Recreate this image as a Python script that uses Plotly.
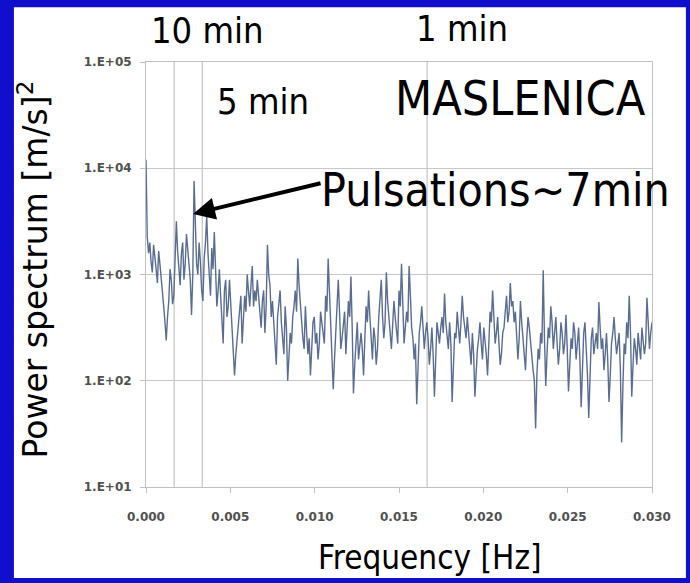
import plotly.graph_objects as go

# Frequency grid (Hz): evenly spaced bins from 0 to 0.030
f_start = 0.0
f_step = 0.000075
# log10 of power spectrum [m/s]^2: even bins ...
log_power_even = [
    4.08, 3.20, 3.12, 3.28, 3.05, 3.22, 2.98, 2.70, 2.38, 2.75,
    2.95, 2.80, 3.50, 3.05, 3.20, 2.95, 3.38, 3.12, 2.62, 3.88,
    3.10, 3.30, 2.85, 3.15, 3.55, 2.95, 3.25, 3.40, 2.70, 3.05,
    2.55, 2.85, 2.60, 2.95, 2.50, 2.05, 2.40, 2.65, 2.35, 2.80,
    3.00, 2.70, 3.08, 2.85, 2.95, 2.60, 2.75, 2.45, 3.28, 2.90,
    2.75, 2.30, 2.60, 2.85, 2.40, 2.70, 2.00, 2.45, 2.60, 2.85,
    3.15, 2.70, 2.40, 2.70, 2.25, 2.05, 2.55, 2.35, 2.20, 2.65,
    2.45, 2.80, 3.15, 2.60, 1.92, 2.45, 2.95, 2.30, 2.55, 2.25,
    2.75, 2.98, 1.88, 2.40, 2.20, 2.45, 2.05, 2.70, 2.85, 2.35,
    2.50, 2.15, 2.60, 2.95, 2.40, 3.02, 2.55, 2.30, 2.75, 2.45,
    2.85, 3.10, 2.35, 2.65, 3.08, 2.50, 2.20, 1.78, 2.45, 2.70,
    2.30, 2.55, 2.15, 2.50, 1.85, 2.55, 2.35, 2.60, 2.82, 2.40,
    2.55, 1.80, 2.45, 2.65, 2.35, 2.80, 2.50, 2.60, 2.25, 2.45,
    1.85, 2.30, 2.55, 2.20, 2.40, 2.05, 2.65, 2.85, 2.35, 2.60,
    2.15, 2.45, 2.70, 2.55, 2.92, 2.75, 2.65, 2.20, 2.75, 2.40,
    2.10, 2.60, 2.35, 2.10, 1.55, 2.30, 2.45, 3.04, 1.95, 2.50,
    2.70, 2.30, 2.60, 2.15, 2.55, 2.25, 2.62, 1.90, 2.40, 2.55,
    2.20, 2.50, 1.75, 2.45, 2.35, 1.65, 2.40, 2.25, 2.45, 2.74,
    2.30, 2.10, 2.45, 1.80, 2.35, 2.60, 2.25, 2.45, 1.42, 2.35,
    2.55, 2.80, 1.85, 2.40, 2.15, 2.35, 2.50, 2.25, 2.78, 2.30,
    2.55,
]
# ... and the odd bins in between them
log_power_odd = [
    3.35, 3.30, 3.02, 3.18, 2.92, 3.10, 2.88, 2.55, 2.60, 3.05,
    2.72, 3.15, 3.22, 2.90, 3.30, 3.10, 3.25, 2.95, 3.00, 3.35,
    3.00, 3.12, 2.75, 3.30, 3.20, 2.80, 3.05, 3.00, 2.85, 2.80,
    2.35, 2.95, 2.70, 2.75, 2.30, 2.25, 2.50, 2.80, 2.55, 2.65,
    2.85, 2.90, 2.70, 2.75, 2.80, 2.50, 2.85, 2.70, 3.00, 2.60,
    2.55, 2.15, 2.70, 2.55, 2.25, 2.50, 2.25, 2.35, 2.70, 2.65,
    2.90, 2.55, 2.30, 2.45, 2.40, 2.30, 2.60, 2.45, 2.35, 2.55,
    2.35, 2.65, 2.85, 2.30, 2.20, 2.60, 2.65, 2.40, 2.65, 2.45,
    2.60, 2.50, 2.15, 2.55, 2.35, 2.30, 2.40, 2.55, 2.60, 2.20,
    2.40, 2.30, 2.75, 2.60, 2.55, 2.75, 2.45, 2.50, 2.60, 2.35,
    2.70, 2.75, 2.50, 2.55, 2.80, 2.40, 2.35, 2.10, 2.55, 2.50,
    2.45, 2.40, 2.30, 2.25, 2.20, 2.45, 2.50, 2.45, 2.55, 2.30,
    2.35, 2.15, 2.40, 2.50, 2.55, 2.60, 2.40, 2.45, 2.15, 2.25,
    2.10, 2.40, 2.35, 2.50, 2.25, 2.40, 2.55, 2.60, 2.45, 2.35,
    2.25, 2.50, 2.80, 2.65, 2.70, 2.55, 2.45, 2.40, 2.55, 2.30,
    2.40, 2.50, 2.25, 2.00, 2.05, 2.20, 2.35, 2.40, 2.25, 2.40,
    2.55, 2.45, 2.35, 2.30, 2.45, 2.35, 2.30, 2.15, 2.30, 2.45,
    2.35, 2.20, 2.10, 2.55, 2.05, 2.15, 2.50, 2.35, 2.30, 2.50,
    2.40, 2.25, 2.20, 2.05, 2.45, 2.40, 2.35, 2.10, 1.95, 2.25,
    2.40, 2.45, 2.15, 2.30, 2.45, 2.20, 2.40, 2.35, 2.55, 2.45,
]

log_power = []
for i, v in enumerate(log_power_even):
    log_power.append(v)
    if i < len(log_power_odd):
        log_power.append(log_power_odd[i])
freq = [f_start + i * f_step for i in range(len(log_power))]
power = [10 ** v for v in log_power]

x_tick_vals = [0.000, 0.005, 0.010, 0.015, 0.020, 0.025, 0.030]
x_tick_text = ["0.000", "0.005", "0.010", "0.015", "0.020", "0.025", "0.030"]
y_tick_vals = [1e1, 1e2, 1e3, 1e4, 1e5]
y_tick_text = ["1.E+01", "1.E+02", "1.E+03", "1.E+04", "1.E+05"]

period_minutes = [10, 5, 1]
period_lines = [1.0 / (m * 60.0) for m in period_minutes]

BIG = "DejaVu Sans Condensed, Liberation Sans Narrow, DejaVu Sans, sans-serif"
TICK = dict(family="DejaVu Sans, sans-serif", size=12, color="#505050", weight="bold")

fig = go.Figure()
fig.add_trace(go.Scatter(
    x=freq, y=power, mode="lines",
    line=dict(color="#5a6d90", width=1.4),
    showlegend=False, hoverinfo="skip",
))

shapes = [
    dict(type="rect", xref="paper", yref="paper",
         x0=-0.261, x1=1.067, y0=-0.214, y1=1.129,
         fillcolor="white", line=dict(width=0), layer="below"),
]
for fl in period_lines:
    shapes.append(dict(type="line", xref="x", yref="paper",
                       x0=fl, x1=fl, y0=0, y1=1,
                       line=dict(color="#b8b8b8", width=1), layer="below"))


def label(text, x, y, size, family=BIG, **kw):
    return dict(text=text, x=x, y=y, xref="paper", yref="paper",
                xanchor="center", yanchor="middle", showarrow=False,
                font=dict(family=family, size=size, color="black"), **kw)


annotations = [
    label("10 min", 0.1206, 1.073, 36),
    label("1 min", 0.6245, 1.078, 36),
    label("5 min", 0.231, 0.906, 36),
    label("MASLENICA", 0.741, 0.915, 48),
    label("Pulsations~7min", 0.690, 0.699, 46),
    dict(text="", x=0.00279, y=3.57, xref="x", yref="y",
         showarrow=True, ax=129, ay=-31, axref="pixel", ayref="pixel",
         arrowhead=2, arrowsize=1.1, arrowwidth=4, arrowcolor="black"),
    label("Frequency [Hz]", 0.561, -0.165, 33),
    label("Power spectrum [m/s]<sup>2</sup>", -0.222, 0.511, 33,
          family="DejaVu Sans, sans-serif", textangle=-90),
]

fig.update_layout(
    width=690, height=583,
    margin=dict(l=146, r=38, t=62, b=96),
    paper_bgcolor="#0f0fcc",
    plot_bgcolor="white",
    shapes=shapes,
    annotations=annotations,
    xaxis=dict(
        range=[0, 0.030], tickvals=x_tick_vals, ticktext=x_tick_text,
        showgrid=False, zeroline=False,
        showline=True, linecolor="#c0c0c0", mirror=True,
        ticks="outside", ticklen=5, tickcolor="#c0c0c0",
        ticklabelstandoff=14, tickfont=TICK,
    ),
    yaxis=dict(
        type="log", range=[1, 5], tickvals=y_tick_vals, ticktext=y_tick_text,
        showgrid=True, gridcolor="#c8c8c8", gridwidth=1,
        zeroline=False, showline=True, linecolor="#c0c0c0", mirror=True,
        ticks="outside", ticklen=5, tickcolor="#c0c0c0",
        ticklabelstandoff=6, tickfont=TICK,
    ),
)

fig.write_html("out.html")
